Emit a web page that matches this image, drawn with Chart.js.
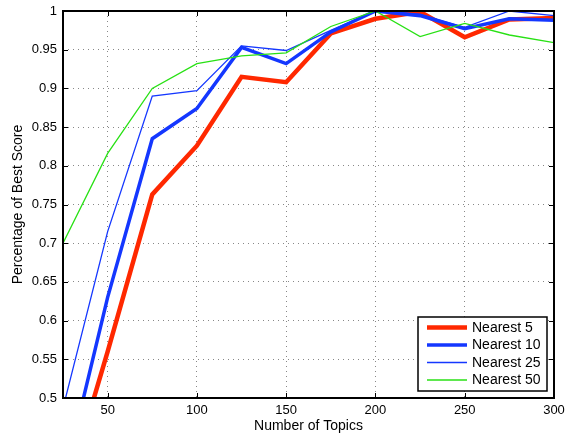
<!DOCTYPE html>
<html>
<head>
<meta charset="utf-8">
<script src="https://cdn.jsdelivr.net/npm/chart.js@4/dist/chart.umd.min.js"></script>
<style>
  html, body { margin: 0; padding: 0; background: #fff; }
</style>
</head>
<body>
<canvas id="chart" width="570" height="438"></canvas>
<script>
// number of topics on the x axis
const topics = [25, 50, 75, 100, 125, 150, 175, 200, 225, 250, 275, 300];

// percentage of best score, one list per neighbourhood size
const nearest5  = [0.365, 0.560, 0.763, 0.826, 0.915, 0.908, 0.971, 0.990, 0.999, 0.966, 0.989, 0.991];
const nearest10 = [0.390, 0.630, 0.835, 0.874, 0.953, 0.932, 0.973, 1.000, 0.994, 0.977, 0.990, 0.988];
const nearest25 = [0.487, 0.715, 0.890, 0.897, 0.955, 0.949, 0.975, 1.000, 0.996, 0.979, 1.000, 0.994];
const nearest50 = [0.700, 0.816, 0.900, 0.932, 0.942, 0.946, 0.980, 1.000, 0.967, 0.984, 0.969, 0.959];

const xTicks = [50, 100, 150, 200, 250, 300];
const yTicks = [0.5, 0.55, 0.6, 0.65, 0.7, 0.75, 0.8, 0.85, 0.9, 0.95, 1];

const FONT = "'Liberation Sans', Arial, Helvetica, sans-serif";

const toPoints = (ys) => topics.map((x, i) => ({ x: x, y: ys[i] }));

// box round the plot, inward tick marks on all four sides
const boxPlugin = {
  id: 'box',
  afterDatasetsDraw(chart) {
    const { ctx, chartArea: a, scales } = chart;
    ctx.save();
    ctx.strokeStyle = '#000';
    ctx.lineWidth = 1;
    ctx.beginPath();
    xTicks.forEach(v => {
      const px = Math.round(scales.x.getPixelForValue(v)) + 0.5;
      ctx.moveTo(px, a.bottom); ctx.lineTo(px, a.bottom - 5);
      ctx.moveTo(px, a.top); ctx.lineTo(px, a.top + 5);
    });
    yTicks.forEach(v => {
      const py = Math.round(scales.y.getPixelForValue(v)) + 0.5;
      ctx.moveTo(a.left, py); ctx.lineTo(a.left + 5, py);
      ctx.moveTo(a.right, py); ctx.lineTo(a.right - 5, py);
    });
    ctx.stroke();
    ctx.lineWidth = 2;
    ctx.strokeRect(a.left, a.top, a.right - a.left, a.bottom - a.top);
    ctx.restore();
  }
};

// legend box in the lower right corner of the plot
const legendPlugin = {
  id: 'boxLegend',
  afterDraw(chart) {
    const { ctx, chartArea: a } = chart;
    const w = 129, h = 74, rowH = 17.5;
    const x0 = a.right - 7 - w, y0 = a.bottom - 7 - h;
    ctx.save();
    ctx.fillStyle = '#fff';
    ctx.fillRect(x0, y0, w, h);
    ctx.strokeStyle = '#000';
    ctx.lineWidth = 1.5;
    ctx.strokeRect(x0, y0, w, h);
    ctx.font = '14px ' + FONT;
    ctx.textBaseline = 'middle';
    chart.data.datasets.forEach((ds, i) => {
      const y = y0 + 10.5 + i * rowH;
      ctx.strokeStyle = ds.borderColor;
      ctx.lineWidth = ds.borderWidth;
      ctx.beginPath();
      ctx.moveTo(x0 + 9, y);
      ctx.lineTo(x0 + 49, y);
      ctx.stroke();
      ctx.fillStyle = '#000';
      ctx.fillText(ds.label, x0 + 54, y + 0.5);
    });
    ctx.restore();
  }
};

const line = (label, ys, color, width, order) => ({
  label: label,
  data: toPoints(ys),
  borderColor: color,
  backgroundColor: color,
  borderWidth: width,
  pointRadius: 0,
  tension: 0,
  clip: 0,
  order: order
});

new Chart(document.getElementById('chart'), {
  type: 'line',
  data: {
    datasets: [
      line('Nearest 5', nearest5, 'rgb(255,40,0)', 4.5, 3),
      line('Nearest 10', nearest10, 'rgb(20,55,255)', 3.5, 2),
      line('Nearest 25', nearest25, 'rgb(20,55,255)', 1.3, 1),
      line('Nearest 50', nearest50, 'rgb(40,225,20)', 1.3, 0)
    ]
  },
  options: {
    responsive: false,
    animation: false,
    devicePixelRatio: 1,
    layout: { padding: { left: 0, right: 16, top: 11, bottom: 0 } },
    plugins: {
      legend: { display: false },
      tooltip: { enabled: false }
    },
    scales: {
      x: {
        type: 'linear',
        min: 25,
        max: 300,
        afterBuildTicks: s => { s.ticks = xTicks.map(v => ({ value: v })); },
        afterFit: s => { s.height = 40; s.paddingLeft = 0; s.paddingRight = 0; },
        ticks: { color: '#000', font: { family: FONT, size: 13 }, padding: 5, maxRotation: 0 },
        grid: { color: '#888', drawTicks: false },
        border: { display: false, dash: [1, 4] },
        title: { display: true, text: 'Number of Topics', color: '#000', font: { family: FONT, size: 14 }, padding: { bottom: 3, top: 0 } }
      },
      y: {
        min: 0.5,
        max: 1,
        afterBuildTicks: s => { s.ticks = yTicks.map(v => ({ value: v })); },
        afterFit: s => { s.width = 63; s.paddingTop = 0; s.paddingBottom = 0; },
        ticks: { color: '#000', font: { family: FONT, size: 13 }, padding: 6, callback: v => String(+v.toFixed(2)) },
        grid: { color: '#888', drawTicks: false },
        border: { display: false, dash: [1, 4] },
        title: { display: true, text: 'Percentage of Best Score', color: '#000', font: { family: FONT, size: 14 }, padding: { top: 10, bottom: 0 } }
      }
    }
  },
  plugins: [boxPlugin, legendPlugin]
});
</script>
</body>
</html>
